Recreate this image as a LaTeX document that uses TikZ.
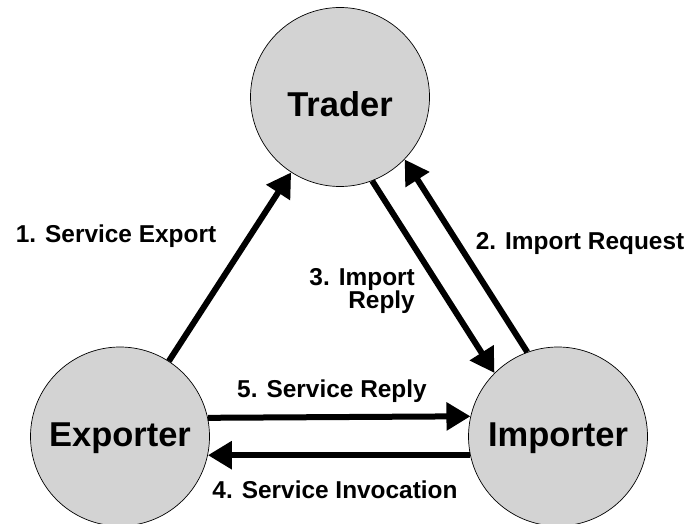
\documentclass[tikz,border=0pt]{standalone}
\usepackage{fontspec}
\setmainfont{Liberation Sans}
\usetikzlibrary{arrows.meta}
\definecolor{partyfill}{RGB}{211,211,211}
\tikzset{
  party/.style={circle, draw=black, line width=0.7bp, fill=partyfill,
    minimum size=179bp, inner sep=0pt},
  partyname/.style={font=\fontsize{34.6}{40}\selectfont\bfseries, inner sep=0pt, anchor=base},
  msg/.style={line width=6bp, -{Triangle[length=24bp,width=27bp]}},
  msglabel/.style={font=\fontsize{24.5}{24}\selectfont\bfseries, inner sep=0pt}
}
\begin{document}
\begin{tikzpicture}[x=1bp, y=-1bp]
  \useasboundingbox (0,0) rectangle (689,524);

  % the three parties
  \node[party] (trader)   at (340,97)    {};
  \node[party] (exporter) at (120,436.5) {};
  \node[party] (importer) at (558,436.5) {};

  \node[partyname] (tradername)   at ([yshift=-20bp]trader.center)   {Trader};
  \node[partyname] (exportername) at ([yshift=-10bp]exporter.center) {Exporter};
  \node[partyname] (importername) at ([yshift=-10bp]importer.center) {Importer};

  % messages
  \draw[msg] (exporter) -- (trader);
  \draw[msg] (importer.110.1) -- (trader.-44.7);
  \draw[msg] (trader.-69.9) -- (importer.135.3);
  \draw[msg] (exporter.12.9) -- (importer.167.1);
  \draw[msg] (importer.192.9) -- (exporter.-12.9);

  % message labels
  \node[msglabel, anchor=base] (l1) at (116,243) {1. Service Export};
  \node[msglabel, anchor=base] (l2) at (580,250) {2. Import Request};
  \node[msglabel, anchor=east, align=right] (l3) at (415,291) {3. Import\\Reply};
  \node[msglabel, anchor=base] (l5) at (332,397) {5. Service Reply};
  \node[msglabel, anchor=base] (l4) at (335,498) {4. Service Invocation};
\end{tikzpicture}
\end{document}
